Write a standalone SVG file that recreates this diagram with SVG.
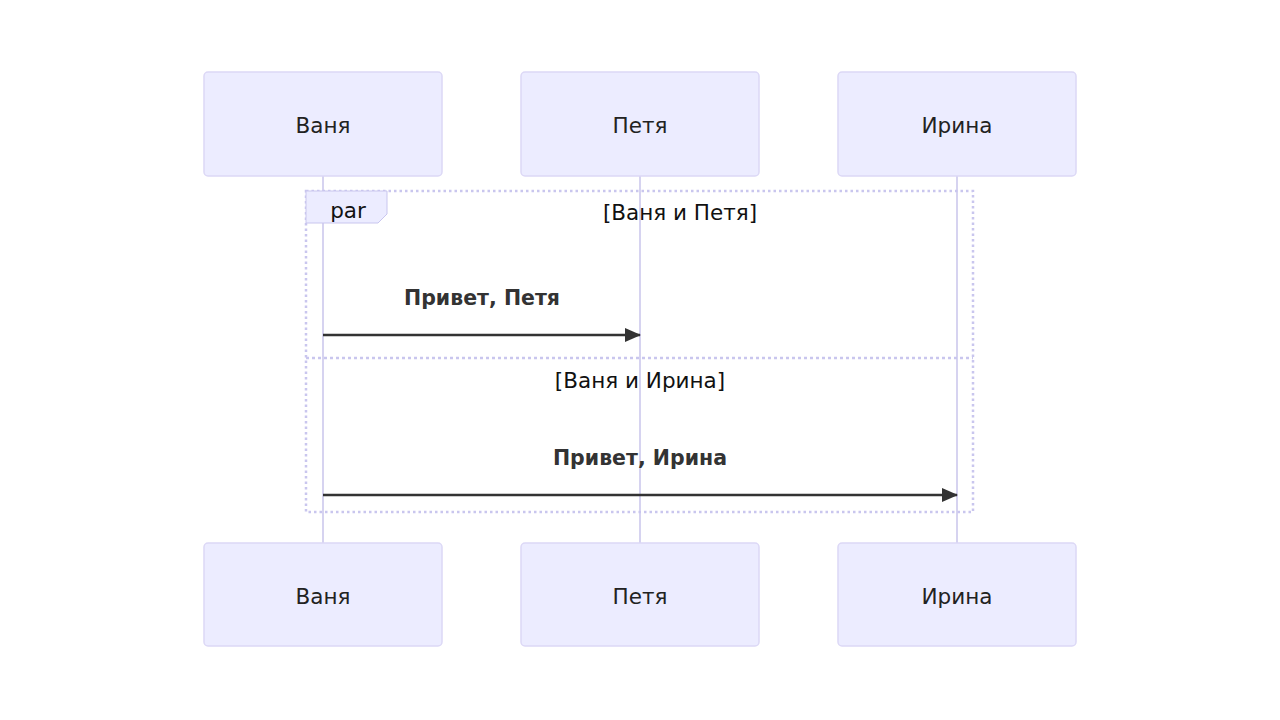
<svg xmlns="http://www.w3.org/2000/svg" width="1280" height="720" viewBox="0 0 1280 720">
<defs>
<marker id="arrow" viewBox="0 0 16 14" refX="15" refY="7" markerWidth="16" markerHeight="14" markerUnits="userSpaceOnUse" orient="auto">
<path d="M0,0 L16,7 L0,14 z" fill="#333333"/>
</marker>
<style>
.actor{fill:#ECECFF;stroke:#DCD8F6;stroke-width:1.5}
.atext{font-family:"DejaVu Sans",Verdana,sans-serif;font-size:21.5px;fill:#222;text-anchor:middle;dominant-baseline:central}
.life{stroke:#D6D3F0;stroke-width:2}
.frame{fill:none;stroke:#C9C6EE;stroke-width:2.5;stroke-dasharray:2.5 3}
.sep{stroke:#C9C6EE;stroke-width:2.5;stroke-dasharray:3 3}
.ltext{font-family:"DejaVu Sans",Verdana,sans-serif;font-size:21.5px;fill:#111;text-anchor:middle;dominant-baseline:central}
.mtext{font-family:"DejaVu Sans",Verdana,sans-serif;font-size:20.5px;font-weight:bold;fill:#333;text-anchor:middle;dominant-baseline:central}
.msg{stroke:#333333;stroke-width:2.5;fill:none}
</style>
</defs>
<rect width="1280" height="720" fill="#ffffff"/>
<g id="lifelines">
<line class="life" x1="323" y1="176" x2="323" y2="543"/>
<line class="life" x1="640" y1="176" x2="640" y2="543"/>
<line class="life" x1="957" y1="176" x2="957" y2="543"/>
</g>
<g id="actor-vanya-top"><rect class="actor" x="204" y="72" width="238" height="104" rx="4"/><text class="atext" x="323" y="125">Ваня</text></g>
<g id="actor-petya-top"><rect class="actor" x="521" y="72" width="238" height="104" rx="4"/><text class="atext" x="640" y="125">Петя</text></g>
<g id="actor-irina-top"><rect class="actor" x="838" y="72" width="238" height="104" rx="4"/><text class="atext" x="957" y="125">Ирина</text></g>
<g id="actor-vanya-bottom"><rect class="actor" x="204" y="543" width="238" height="103" rx="4"/><text class="atext" x="323" y="596">Ваня</text></g>
<g id="actor-petya-bottom"><rect class="actor" x="521" y="543" width="238" height="103" rx="4"/><text class="atext" x="640" y="596">Петя</text></g>
<g id="actor-irina-bottom"><rect class="actor" x="838" y="543" width="238" height="103" rx="4"/><text class="atext" x="957" y="596">Ирина</text></g>
<g id="par-frame">
<rect class="frame" x="306" y="191" width="667" height="321"/>
<path d="M306,191 L387,191 L387,214 L378,223 L306,223 z" fill="#ECECFF" stroke="#C9C6EE" stroke-width="1"/>
<text class="ltext" x="348" y="210">par</text>
<text class="ltext" x="680" y="212">[Ваня и Петя]</text>
<line class="sep" x1="306" y1="358" x2="973" y2="358"/>
<text class="ltext" x="640" y="380">[Ваня и Ирина]</text>
</g>
<g id="connectors">
<line class="msg" x1="323" y1="335" x2="640" y2="335" marker-end="url(#arrow)"/>
<text class="mtext" x="482" y="298">Привет, Петя</text>
<line class="msg" x1="323" y1="495" x2="957" y2="495" marker-end="url(#arrow)"/>
<text class="mtext" x="640" y="458">Привет, Ирина</text>
</g>
</svg>
